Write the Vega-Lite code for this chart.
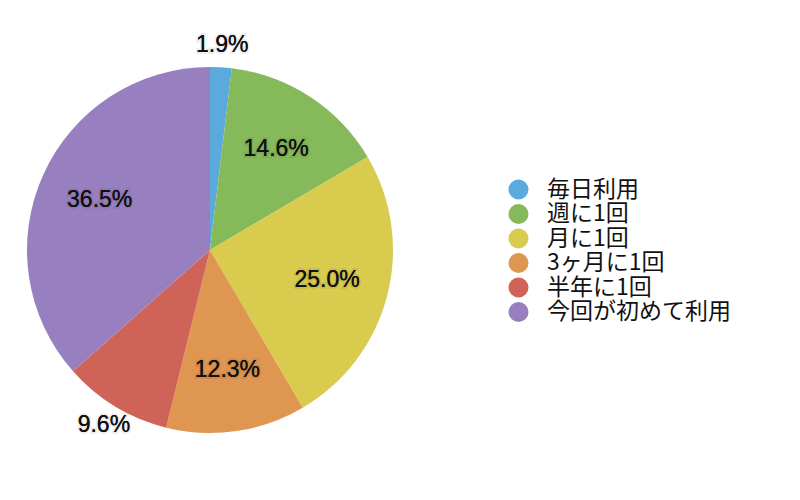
{
  "$schema": "https://vega.github.io/schema/vega-lite/v6.json",
  "width": 420,
  "height": 500,
  "padding": {"left": 0, "top": 0, "right": 380, "bottom": 0},
  "autosize": {"type": "none"},
  "background": "white",
  "data": {
    "values": [
      {"category": "毎日利用", "pct": 1.9, "label": "1.9%", "order": 1},
      {"category": "週に1回", "pct": 14.6, "label": "14.6%", "order": 2},
      {"category": "月に1回", "pct": 25.0, "label": "25.0%", "order": 3},
      {"category": "3ヶ月に1回", "pct": 12.3, "label": "12.3%", "order": 4},
      {"category": "半年に1回", "pct": 9.6, "label": "9.6%", "order": 5},
      {"category": "今回が初めて利用", "pct": 36.5, "label": "36.5%", "order": 6}
    ]
  },
  "encoding": {
    "theta": {"field": "pct", "type": "quantitative", "stack": true},
    "order": {"field": "order", "type": "quantitative"}
  },
  "layer": [
    {
      "mark": {"type": "arc", "outerRadius": 183},
      "encoding": {
        "color": {
          "field": "category",
          "type": "nominal",
          "sort": null,
          "scale": {
            "domain": ["毎日利用", "週に1回", "月に1回", "3ヶ月に1回", "半年に1回", "今回が初めて利用"],
            "range": ["#5aaadc", "#86b95a", "#d8cb4e", "#df9650", "#cf6358", "#9880c0"]
          },
          "legend": {
            "title": null,
            "orient": "none",
            "legendX": 507,
            "legendY": 178,
            "symbolType": "circle",
            "symbolSize": 400,
            "symbolStrokeWidth": 0,
            "symbolOpacity": 1,
            "labelFont": "Noto Sans CJK JP",
            "labelFontSize": 23,
            "labelColor": "#111",
            "labelOffset": 17,
            "rowPadding": 0.5,
            "labelLimit": 300
          }
        }
      }
    },
    {
      "mark": {"type": "text", "radius": 121, "font": "Liberation Sans", "fontSize": 23, "stroke": "#000", "strokeOpacity": 0.08, "strokeWidth": 4},
      "encoding": {"text": {"condition": {"test": "datum.pct >= 10", "field": "label"}, "value": ""}}
    },
    {
      "mark": {"type": "text", "radius": 121, "font": "Liberation Sans", "fontSize": 23, "fill": "#111"},
      "encoding": {"text": {"condition": {"test": "datum.pct >= 10", "field": "label"}, "value": ""}}
    },
    {
      "mark": {"type": "text", "radius": 205, "font": "Liberation Sans", "fontSize": 23, "stroke": "#000", "strokeOpacity": 0.08, "strokeWidth": 4},
      "encoding": {"text": {"condition": {"test": "datum.pct < 10", "field": "label"}, "value": ""}}
    },
    {
      "mark": {"type": "text", "radius": 205, "font": "Liberation Sans", "fontSize": 23, "fill": "#111"},
      "encoding": {"text": {"condition": {"test": "datum.pct < 10", "field": "label"}, "value": ""}}
    }
  ]
}
